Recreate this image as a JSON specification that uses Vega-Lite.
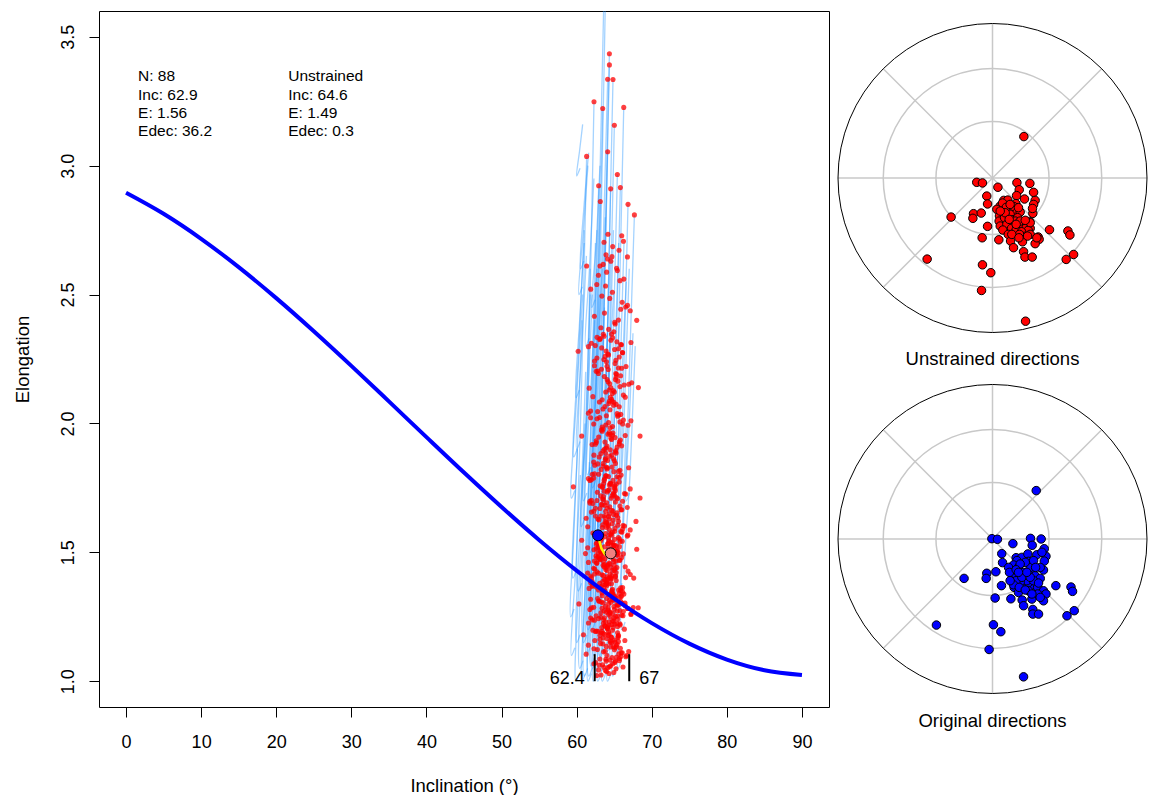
{
"$schema":"https://vega.github.io/schema/vega-lite/v6.json",
"padding":{"left":12,"top":10,"right":0,"bottom":0},
"config":{"font":"Liberation Sans","view":{"stroke":"#000000","strokeWidth":1},
"axis":{"labelFont":"Liberation Sans","titleFont":"Liberation Sans","labelColor":"#000000","titleColor":"#000000","tickColor":"#000000","grid":false,"domain":false,"labelFontSize":18,"titleFontSize":18.5,"titleFontWeight":"normal","tickSize":10}},
"resolve":{"scale":{"x":"independent","y":"independent","size":"independent"}},
"spacing":6,
"datasets":{
"tk03":[{"x":0,"y":2.895},{"x":5,"y":2.8133},{"x":10,"y":2.7163},{"x":15,"y":2.6064},{"x":20,"y":2.4861},{"x":25,"y":2.3576},{"x":30,"y":2.2233},{"x":35,"y":2.0856},{"x":40,"y":1.9468},{"x":45,"y":1.8094},{"x":50,"y":1.6758},{"x":55,"y":1.5481},{"x":60,"y":1.429},{"x":65,"y":1.3206},{"x":70,"y":1.2254},{"x":75,"y":1.1458},{"x":80,"y":1.0841},{"x":85,"y":1.0427},{"x":90,"y":1.0242}],
"lines":[
{"r":1,"k":0,"x":62.05,"y":1.05},{"r":1,"k":1,"x":61.6,"y":1.02},{"r":1,"k":2,"x":62.6,"y":2.3},{"r":1,"k":3,"x":63.7,"y":3.75},
{"r":2,"k":0,"x":62.55,"y":1.08},{"r":2,"k":1,"x":62.1,"y":1.05},{"r":2,"k":2,"x":63.0,"y":2.4},{"r":2,"k":3,"x":63.9,"y":3.75},
{"r":3,"k":0,"x":63.05,"y":1.07},{"r":3,"k":1,"x":62.6,"y":1.04},{"r":3,"k":2,"x":63.4,"y":2.2},{"r":3,"k":3,"x":64.36,"y":3.434},
{"r":4,"k":0,"x":63.35,"y":1.11},{"r":4,"k":1,"x":62.9,"y":1.08},{"r":4,"k":2,"x":63.5,"y":2.2},{"r":4,"k":3,"x":64.36,"y":3.391},
{"r":5,"k":0,"x":62.75,"y":1.13},{"r":5,"k":1,"x":62.3,"y":1.1},{"r":5,"k":2,"x":63.1,"y":2.2},{"r":5,"k":3,"x":64.13,"y":3.335},
{"r":6,"k":0,"x":63.75,"y":1.07},{"r":6,"k":1,"x":63.3,"y":1.04},{"r":6,"k":2,"x":64.0,"y":2.2},{"r":6,"k":3,"x":64.84,"y":3.334},
{"r":7,"k":0,"x":61.35,"y":1.18},{"r":7,"k":1,"x":60.9,"y":1.15},{"r":7,"k":2,"x":61.6,"y":2.2},{"r":7,"k":3,"x":62.31,"y":3.248},
{"r":8,"k":0,"x":62.35,"y":1.09},{"r":8,"k":1,"x":61.9,"y":1.06},{"r":8,"k":2,"x":62.6,"y":2.1},{"r":8,"k":3,"x":63.47,"y":3.222},
{"r":9,"k":0,"x":65.05,"y":1.09},{"r":9,"k":1,"x":64.6,"y":1.06},{"r":9,"k":2,"x":65.4,"y":2.1},{"r":9,"k":3,"x":66.27,"y":3.226},
{"r":10,"k":0,"x":63.95,"y":1.15},{"r":10,"k":1,"x":63.5,"y":1.12},{"r":10,"k":2,"x":64.2,"y":2.1},{"r":10,"k":3,"x":65.02,"y":3.157},
{"r":11,"k":0,"x":60.65,"y":1.38},{"r":11,"k":1,"x":60.2,"y":1.35},{"r":11,"k":2,"x":60.7,"y":2.2},{"r":11,"k":3,"x":61.33,"y":3.036},
{"r":12,"k":0,"x":63.15,"y":1.18},{"r":12,"k":1,"x":62.7,"y":1.15},{"r":12,"k":2,"x":63.4,"y":2.1},{"r":12,"k":3,"x":64.13,"y":3.054},
{"r":13,"k":0,"x":64.25,"y":1.11},{"r":13,"k":1,"x":63.8,"y":1.08},{"r":13,"k":2,"x":64.6,"y":2.0},{"r":13,"k":3,"x":65.42,"y":2.966},
{"r":14,"k":0,"x":61.95,"y":1.23},{"r":14,"k":1,"x":61.5,"y":1.2},{"r":14,"k":2,"x":62.2,"y":2.0},{"r":14,"k":3,"x":62.93,"y":2.922},
{"r":15,"k":0,"x":63.45,"y":1.13},{"r":15,"k":1,"x":63.0,"y":1.1},{"r":15,"k":2,"x":63.8,"y":2.0},{"r":15,"k":3,"x":64.53,"y":2.91},
{"r":16,"k":0,"x":64.65,"y":1.15},{"r":16,"k":1,"x":64.2,"y":1.12},{"r":16,"k":2,"x":65.0,"y":2.0},{"r":16,"k":3,"x":65.82,"y":2.915},
{"r":17,"k":0,"x":62.25,"y":1.28},{"r":17,"k":1,"x":61.8,"y":1.25},{"r":17,"k":2,"x":62.4,"y":2.0},{"r":17,"k":3,"x":63.15,"y":2.861},
{"r":18,"k":0,"x":65.65,"y":1.13},{"r":18,"k":1,"x":65.2,"y":1.1},{"r":18,"k":2,"x":66.0,"y":1.9},{"r":18,"k":3,"x":66.84,"y":2.85},
{"r":19,"k":0,"x":66.45,"y":1.23},{"r":19,"k":1,"x":66.0,"y":1.2},{"r":19,"k":2,"x":66.8,"y":2.0},{"r":19,"k":3,"x":67.69,"y":2.809},
{"r":20,"k":0,"x":60.45,"y":2.99},{"r":20,"k":1,"x":60.0,"y":2.96},{"r":20,"k":2,"x":60.4,"y":3.06},{"r":20,"k":3,"x":60.8,"y":3.16},
{"r":21,"k":0,"x":60.75,"y":2.53},{"r":21,"k":1,"x":60.3,"y":2.5},{"r":21,"k":2,"x":60.9,"y":2.75},{"r":21,"k":3,"x":61.5,"y":3.0},
{"r":22,"k":0,"x":60.05,"y":1.9},{"r":22,"k":1,"x":59.6,"y":1.87},{"r":22,"k":2,"x":60.3,"y":2.3},{"r":22,"k":3,"x":61.0,"y":2.75},
{"r":23,"k":0,"x":59.75,"y":1.74},{"r":23,"k":1,"x":59.3,"y":1.71},{"r":23,"k":2,"x":60.0,"y":2.1},{"r":23,"k":3,"x":60.8,"y":2.5},
{"r":24,"k":0,"x":59.95,"y":1.43},{"r":24,"k":1,"x":59.5,"y":1.4},{"r":24,"k":2,"x":60.1,"y":1.9},{"r":24,"k":3,"x":60.7,"y":2.4},
{"r":25,"k":0,"x":60.45,"y":1.18},{"r":25,"k":1,"x":60.0,"y":1.15},{"r":25,"k":2,"x":60.6,"y":1.7},{"r":25,"k":3,"x":61.2,"y":2.2},
{"r":26,"k":0,"x":60.85,"y":1.08},{"r":26,"k":1,"x":60.4,"y":1.05},{"r":26,"k":2,"x":61.1,"y":1.8},{"r":26,"k":3,"x":61.8,"y":2.6},
{"r":27,"k":0,"x":61.45,"y":1.05},{"r":27,"k":1,"x":61.0,"y":1.02},{"r":27,"k":2,"x":61.7,"y":1.8},{"r":27,"k":3,"x":62.5,"y":2.7},
{"r":28,"k":0,"x":61.75,"y":1.13},{"r":28,"k":1,"x":61.3,"y":1.1},{"r":28,"k":2,"x":62.0,"y":1.9},{"r":28,"k":3,"x":62.7,"y":2.75},
{"r":29,"k":0,"x":62.45,"y":1.23},{"r":29,"k":1,"x":62.0,"y":1.2},{"r":29,"k":2,"x":62.7,"y":1.95},{"r":29,"k":3,"x":63.4,"y":2.7},
{"r":30,"k":0,"x":62.85,"y":1.33},{"r":30,"k":1,"x":62.4,"y":1.3},{"r":30,"k":2,"x":63.0,"y":2.0},{"r":30,"k":3,"x":63.8,"y":2.8},
{"r":31,"k":0,"x":63.45,"y":1.28},{"r":31,"k":1,"x":63.0,"y":1.25},{"r":31,"k":2,"x":63.7,"y":2.0},{"r":31,"k":3,"x":64.5,"y":2.65},
{"r":32,"k":0,"x":63.85,"y":1.23},{"r":32,"k":1,"x":63.4,"y":1.2},{"r":32,"k":2,"x":64.1,"y":1.95},{"r":32,"k":3,"x":64.9,"y":2.75},
{"r":33,"k":0,"x":64.45,"y":1.28},{"r":33,"k":1,"x":64.0,"y":1.25},{"r":33,"k":2,"x":64.8,"y":2.0},{"r":33,"k":3,"x":65.6,"y":2.7},
{"r":34,"k":0,"x":65.35,"y":1.33},{"r":34,"k":1,"x":64.9,"y":1.3},{"r":34,"k":2,"x":65.6,"y":2.0},{"r":34,"k":3,"x":66.3,"y":2.7},
{"r":35,"k":0,"x":66.05,"y":1.38},{"r":35,"k":1,"x":65.6,"y":1.35},{"r":35,"k":2,"x":66.3,"y":2.0},{"r":35,"k":3,"x":67.0,"y":2.6},
{"r":36,"k":0,"x":61.65,"y":1.43},{"r":36,"k":1,"x":61.2,"y":1.4},{"r":36,"k":2,"x":61.8,"y":1.9},{"r":36,"k":3,"x":62.4,"y":2.4},
{"r":37,"k":0,"x":62.25,"y":1.53},{"r":37,"k":1,"x":61.8,"y":1.5},{"r":37,"k":2,"x":62.4,"y":2.0},{"r":37,"k":3,"x":63.0,"y":2.5},
{"r":38,"k":0,"x":62.95,"y":1.48},{"r":38,"k":1,"x":62.5,"y":1.45},{"r":38,"k":2,"x":63.1,"y":2.0},{"r":38,"k":3,"x":63.7,"y":2.45},
{"r":39,"k":0,"x":63.65,"y":1.53},{"r":39,"k":1,"x":63.2,"y":1.5},{"r":39,"k":2,"x":63.9,"y":2.0},{"r":39,"k":3,"x":64.6,"y":2.4},
{"r":40,"k":0,"x":64.75,"y":1.53},{"r":40,"k":1,"x":64.3,"y":1.5},{"r":40,"k":2,"x":65.0,"y":2.0},{"r":40,"k":3,"x":65.7,"y":2.4},
{"r":41,"k":0,"x":61.05,"y":1.63},{"r":41,"k":1,"x":60.6,"y":1.6},{"r":41,"k":2,"x":61.2,"y":2.0},{"r":41,"k":3,"x":61.8,"y":2.5},
{"r":42,"k":0,"x":60.35,"y":1.03},{"r":42,"k":1,"x":59.9,"y":1.0},{"r":42,"k":2,"x":60.5,"y":1.5},{"r":42,"k":3,"x":61.1,"y":2.0},
{"r":43,"k":0,"x":61.35,"y":1.73},{"r":43,"k":1,"x":60.9,"y":1.7},{"r":43,"k":2,"x":61.5,"y":2.1},{"r":43,"k":3,"x":62.1,"y":2.5},
{"r":44,"k":0,"x":61.85,"y":1.83},{"r":44,"k":1,"x":61.4,"y":1.8},{"r":44,"k":2,"x":62.0,"y":2.2},{"r":44,"k":3,"x":62.7,"y":2.6},
{"r":45,"k":0,"x":62.55,"y":1.78},{"r":45,"k":1,"x":62.1,"y":1.75},{"r":45,"k":2,"x":62.7,"y":2.2},{"r":45,"k":3,"x":63.4,"y":2.6},
{"r":46,"k":0,"x":64.05,"y":1.73},{"r":46,"k":1,"x":63.6,"y":1.7},{"r":46,"k":2,"x":64.2,"y":2.1},{"r":46,"k":3,"x":64.9,"y":2.5},
{"r":47,"k":0,"x":65.65,"y":1.63},{"r":47,"k":1,"x":65.2,"y":1.6},{"r":47,"k":2,"x":65.9,"y":2.1},{"r":47,"k":3,"x":66.6,"y":2.55},
{"r":48,"k":0,"x":66.85,"y":1.43},{"r":48,"k":1,"x":66.4,"y":1.4},{"r":48,"k":2,"x":67.1,"y":1.8},{"r":48,"k":3,"x":67.8,"y":2.3},
{"r":49,"k":0,"x":62.65,"y":1.03},{"r":49,"k":1,"x":62.2,"y":1.0},{"r":49,"k":2,"x":62.7,"y":1.5},{"r":49,"k":3,"x":63.2,"y":2.0},
{"r":50,"k":0,"x":63.25,"y":1.03},{"r":50,"k":1,"x":62.8,"y":1.0},{"r":50,"k":2,"x":63.3,"y":1.4},{"r":50,"k":3,"x":63.9,"y":1.9},
{"r":51,"k":0,"x":63.85,"y":1.03},{"r":51,"k":1,"x":63.4,"y":1.0},{"r":51,"k":2,"x":63.9,"y":1.45},{"r":51,"k":3,"x":64.5,"y":1.95},
{"r":52,"k":0,"x":64.55,"y":1.03},{"r":52,"k":1,"x":64.1,"y":1.0},{"r":52,"k":2,"x":64.6,"y":1.4},{"r":52,"k":3,"x":65.2,"y":1.9},
{"r":53,"k":0,"x":65.25,"y":1.05},{"r":53,"k":1,"x":64.8,"y":1.02},{"r":53,"k":2,"x":65.3,"y":1.5},{"r":53,"k":3,"x":65.9,"y":2.0},
{"r":54,"k":0,"x":65.95,"y":1.08},{"r":54,"k":1,"x":65.5,"y":1.05},{"r":54,"k":2,"x":66.0,"y":1.5},{"r":54,"k":3,"x":66.6,"y":2.0},
{"r":55,"k":0,"x":61.95,"y":1.03},{"r":55,"k":1,"x":61.5,"y":1.0},{"r":55,"k":2,"x":61.9,"y":1.4},{"r":55,"k":3,"x":62.4,"y":1.8},
{"r":56,"k":0,"x":61.15,"y":1.03},{"r":56,"k":1,"x":60.7,"y":1.0},{"r":56,"k":2,"x":61.2,"y":1.4},{"r":56,"k":3,"x":61.7,"y":1.85},
{"r":57,"k":0,"x":60.35,"y":2.13},{"r":57,"k":1,"x":59.9,"y":2.1},{"r":57,"k":2,"x":60.4,"y":2.4},{"r":57,"k":3,"x":61.0,"y":2.7},
{"r":58,"k":0,"x":60.95,"y":2.63},{"r":58,"k":1,"x":60.5,"y":2.6},{"r":58,"k":2,"x":61.0,"y":2.85},{"r":58,"k":3,"x":61.6,"y":3.05},
{"r":59,"k":0,"x":61.65,"y":2.33},{"r":59,"k":1,"x":61.2,"y":2.3},{"r":59,"k":2,"x":61.7,"y":2.6},{"r":59,"k":3,"x":62.3,"y":2.95},
{"r":60,"k":0,"x":62.45,"y":2.48},{"r":60,"k":1,"x":62.0,"y":2.45},{"r":60,"k":2,"x":62.6,"y":2.7},{"r":60,"k":3,"x":63.1,"y":3.0},
{"r":61,"k":0,"x":67.05,"y":1.73},{"r":61,"k":1,"x":66.6,"y":1.7},{"r":61,"k":2,"x":67.0,"y":2.0},{"r":61,"k":3,"x":67.5,"y":2.35},
{"r":62,"k":0,"x":59.65,"y":1.28},{"r":62,"k":1,"x":59.2,"y":1.25},{"r":62,"k":2,"x":59.6,"y":1.55},{"r":62,"k":3,"x":60.1,"y":1.9},
{"r":63,"k":0,"x":59.75,"y":1.13},{"r":63,"k":1,"x":59.3,"y":1.1},{"r":63,"k":2,"x":59.9,"y":1.45},{"r":63,"k":3,"x":60.5,"y":1.8},
{"r":64,"k":0,"x":60.45,"y":1.93},{"r":64,"k":1,"x":60.0,"y":1.9},{"r":64,"k":2,"x":60.6,"y":2.25},{"r":64,"k":3,"x":61.3,"y":2.65},
{"r":65,"k":0,"x":63.35,"y":1.63},{"r":65,"k":1,"x":62.9,"y":1.6},{"r":65,"k":2,"x":63.5,"y":2.0},{"r":65,"k":3,"x":64.1,"y":2.35}
],
"red":[
{"x":64.36,"y":3.434},{"x":64.36,"y":3.391},{"x":64.13,"y":3.335},{"x":64.84,"y":3.334},{"x":62.31,"y":3.248},{"x":63.47,"y":3.222},{"x":66.27,"y":3.226},{"x":65.02,"y":3.157},{"x":61.33,"y":3.036},{"x":64.13,"y":3.054},{"x":65.42,"y":2.966},{"x":62.93,"y":2.922},{"x":64.53,"y":2.91},{"x":65.82,"y":2.915},{"x":63.15,"y":2.861},{"x":66.84,"y":2.85},{"x":67.69,"y":2.809},{"x":64.17,"y":2.734},{"x":66.0,"y":2.728},{"x":63.64,"y":2.703},{"x":66.23,"y":2.707},{"x":64.8,"y":2.686},{"x":65.64,"y":2.672},{"x":63.91,"y":2.654},{"x":66.76,"y":2.646},
{"x":64.76,"y":2.509},{"x":63.23,"y":2.371},{"x":65.42,"y":2.593},{"x":66.52,"y":2.452},{"x":64.12,"y":2.638},{"x":62.36,"y":2.416},{"x":65.76,"y":2.554},{"x":64.40,"y":2.485},{"x":65.13,"y":2.386},{"x":63.53,"y":2.617},{"x":67.14,"y":2.437},{"x":63.85,"y":2.533},{"x":64.95,"y":2.356},{"x":62.90,"y":2.575},{"x":66.06,"y":2.470},{"x":64.55,"y":2.629},{"x":65.56,"y":2.401},{"x":61.87,"y":2.521},{"x":65.32,"y":2.602},{"x":63.70,"y":2.428},{"x":66.29,"y":2.560},{"x":64.26,"y":2.365},{"x":63.36,"y":2.494},{"x":64.70,"y":2.647},{"x":66.77,"y":2.458},{"x":62.68,"y":2.539},{"x":65.07,"y":2.392},{"x":63.99,"y":2.587},{"x":65.87,"y":2.443},{"x":63.10,"y":2.611},
{"x":64.20,"y":2.209},{"x":64.93,"y":2.071},{"x":63.33,"y":2.293},{"x":66.94,"y":2.152},{"x":63.65,"y":2.338},{"x":64.75,"y":2.116},{"x":62.70,"y":2.254},{"x":65.86,"y":2.185},{"x":64.35,"y":2.086},{"x":65.36,"y":2.317},{"x":61.67,"y":2.137},{"x":65.12,"y":2.233},{"x":63.50,"y":2.056},{"x":66.09,"y":2.275},{"x":64.06,"y":2.170},{"x":63.16,"y":2.329},{"x":64.50,"y":2.101},{"x":66.57,"y":2.221},{"x":62.48,"y":2.302},{"x":64.87,"y":2.128},{"x":63.79,"y":2.260},{"x":65.67,"y":2.065},{"x":62.90,"y":2.194},{"x":64.65,"y":2.347},{"x":67.33,"y":2.158},{"x":63.97,"y":2.239},{"x":63.40,"y":2.092},{"x":65.05,"y":2.287},{"x":65.77,"y":2.143},{"x":61.96,"y":2.311},{"x":65.26,"y":2.179},{"x":64.28,"y":2.077},{"x":63.62,"y":2.248},{"x":66.22,"y":2.110},{"x":64.80,"y":2.332},{"x":62.81,"y":2.203},{"x":65.49,"y":2.164},{"x":64.14,"y":2.269},{"x":64.44,"y":2.053},{"x":62.37,"y":2.224},{"x":65.97,"y":2.305},{"x":63.87,"y":2.122},{"x":65.31,"y":2.191},{"x":64.56,"y":2.323},{"x":63.03,"y":2.083},{"x":65.22,"y":2.245},{"x":66.32,"y":2.149},{"x":63.92,"y":2.281},{"x":62.16,"y":2.104},{"x":65.56,"y":2.215},
{"x":62.60,"y":1.933},{"x":65.76,"y":1.818},{"x":64.25,"y":2.003},{"x":65.26,"y":1.885},{"x":61.57,"y":2.040},{"x":65.02,"y":1.855},{"x":63.40,"y":1.970},{"x":65.99,"y":1.913},{"x":63.96,"y":1.830},{"x":63.06,"y":2.023},{"x":64.40,"y":1.873},{"x":66.47,"y":1.953},{"x":62.38,"y":1.805},{"x":64.77,"y":1.988},{"x":63.69,"y":1.900},{"x":65.57,"y":2.033},{"x":62.80,"y":1.843},{"x":64.55,"y":1.943},{"x":67.23,"y":2.010},{"x":63.87,"y":1.865},{"x":63.30,"y":1.975},{"x":64.95,"y":1.813},{"x":65.67,"y":1.920},{"x":61.86,"y":2.048},{"x":65.16,"y":1.890},{"x":64.18,"y":1.958},{"x":63.52,"y":1.835},{"x":66.12,"y":1.998},{"x":64.70,"y":1.878},{"x":62.71,"y":2.018},{"x":65.39,"y":1.908},{"x":64.04,"y":1.823},{"x":64.34,"y":1.965},{"x":62.27,"y":1.850},{"x":65.87,"y":2.035},{"x":63.77,"y":1.928},{"x":65.21,"y":1.895},{"x":64.46,"y":1.983},{"x":62.93,"y":1.803},{"x":65.12,"y":1.945},{"x":66.22,"y":2.013},{"x":63.82,"y":1.860},{"x":62.06,"y":1.918},{"x":65.46,"y":2.028},{"x":64.10,"y":1.828},{"x":64.83,"y":1.963},{"x":63.23,"y":1.883},{"x":66.84,"y":1.993},{"x":63.55,"y":1.845},{"x":64.65,"y":1.938},
{"x":63.86,"y":1.659},{"x":62.96,"y":1.521},{"x":64.30,"y":1.743},{"x":66.37,"y":1.602},{"x":62.28,"y":1.788},{"x":64.67,"y":1.566},{"x":63.59,"y":1.704},{"x":65.47,"y":1.635},{"x":62.70,"y":1.536},{"x":64.45,"y":1.767},{"x":67.13,"y":1.587},{"x":63.77,"y":1.683},{"x":63.20,"y":1.506},{"x":64.85,"y":1.725},{"x":65.57,"y":1.620},{"x":61.76,"y":1.779},{"x":65.06,"y":1.551},{"x":64.08,"y":1.671},{"x":63.42,"y":1.752},{"x":66.02,"y":1.578},{"x":64.60,"y":1.710},{"x":62.61,"y":1.515},{"x":65.29,"y":1.644},{"x":63.94,"y":1.797},{"x":64.24,"y":1.608},{"x":62.17,"y":1.689},{"x":65.77,"y":1.542},{"x":63.67,"y":1.737},{"x":65.11,"y":1.593},{"x":64.36,"y":1.761},{"x":62.83,"y":1.629},{"x":65.02,"y":1.527},{"x":66.12,"y":1.698},{"x":63.72,"y":1.560},{"x":61.96,"y":1.782},{"x":65.36,"y":1.653},{"x":64.00,"y":1.614},{"x":64.73,"y":1.719},{"x":63.13,"y":1.503},{"x":66.74,"y":1.674},{"x":63.45,"y":1.755},{"x":64.55,"y":1.572},{"x":62.50,"y":1.641},{"x":65.66,"y":1.773},{"x":64.15,"y":1.533},{"x":65.16,"y":1.695},{"x":61.47,"y":1.599},{"x":64.92,"y":1.731},{"x":63.30,"y":1.554},{"x":65.89,"y":1.665},
{"x":63.20,"y":1.641},{"x":64.85,"y":1.779},{"x":65.57,"y":1.557},{"x":61.76,"y":1.698},{"x":65.06,"y":1.512},{"x":64.08,"y":1.734},{"x":63.42,"y":1.596},{"x":66.02,"y":1.665},{"x":64.60,"y":1.764},{"x":62.61,"y":1.533},{"x":65.29,"y":1.713},{"x":63.94,"y":1.617},{"x":64.24,"y":1.794},{"x":62.17,"y":1.575},{"x":65.77,"y":1.680},{"x":63.67,"y":1.521},{"x":65.11,"y":1.749},{"x":64.36,"y":1.629},{"x":62.83,"y":1.548},{"x":65.02,"y":1.722},{"x":66.12,"y":1.590},{"x":63.72,"y":1.785},{"x":61.96,"y":1.656},{"x":65.36,"y":1.503},{"x":64.00,"y":1.692},{"x":64.73,"y":1.611},{"x":63.13,"y":1.758},{"x":66.74,"y":1.563},{"x":63.45,"y":1.707},{"x":64.55,"y":1.539},{"x":62.50,"y":1.671},{"x":65.66,"y":1.790},{"x":64.15,"y":1.602},{"x":65.16,"y":1.740},{"x":61.47,"y":1.518},{"x":64.92,"y":1.647},{"x":63.30,"y":1.686},{"x":65.89,"y":1.581},{"x":63.86,"y":1.797},{"x":62.96,"y":1.626},{"x":64.30,"y":1.545},{"x":66.37,"y":1.728},{"x":62.28,"y":1.659},{"x":64.67,"y":1.527},{"x":63.59,"y":1.767},{"x":65.47,"y":1.605},{"x":62.70,"y":1.701},{"x":64.45,"y":1.569},{"x":67.13,"y":1.746},{"x":63.77,"y":1.635},
{"x":62.06,"y":1.368},{"x":65.46,"y":1.240},{"x":64.10,"y":1.447},{"x":64.83,"y":1.315},{"x":63.23,"y":1.489},{"x":66.84,"y":1.282},{"x":63.55,"y":1.410},{"x":64.65,"y":1.346},{"x":62.60,"y":1.254},{"x":65.76,"y":1.469},{"x":64.25,"y":1.301},{"x":65.26,"y":1.391},{"x":61.57,"y":1.226},{"x":65.02,"y":1.430},{"x":63.40,"y":1.332},{"x":65.99,"y":1.480},{"x":63.96,"y":1.268},{"x":63.06,"y":1.380},{"x":64.40,"y":1.455},{"x":66.47,"y":1.293},{"x":62.38,"y":1.416},{"x":64.77,"y":1.234},{"x":63.69,"y":1.354},{"x":65.57,"y":1.497},{"x":62.80,"y":1.321},{"x":64.55,"y":1.396},{"x":67.23,"y":1.259},{"x":63.87,"y":1.441},{"x":63.30,"y":1.307},{"x":64.95,"y":1.464},{"x":65.67,"y":1.340},{"x":61.86,"y":1.245},{"x":65.16,"y":1.405},{"x":64.18,"y":1.276},{"x":63.52,"y":1.483},{"x":66.12,"y":1.363},{"x":64.70,"y":1.326},{"x":62.71,"y":1.424},{"x":65.39,"y":1.223},{"x":64.04,"y":1.382},{"x":64.34,"y":1.458},{"x":62.27,"y":1.287},{"x":65.87,"y":1.352},{"x":63.77,"y":1.475},{"x":65.21,"y":1.251},{"x":64.46,"y":1.402},{"x":62.93,"y":1.312},{"x":65.12,"y":1.436},{"x":66.22,"y":1.270},{"x":63.82,"y":1.374},
{"x":64.70,"y":1.352},{"x":62.71,"y":1.480},{"x":65.39,"y":1.273},{"x":64.04,"y":1.405},{"x":64.34,"y":1.231},{"x":62.27,"y":1.438},{"x":65.87,"y":1.310},{"x":63.77,"y":1.374},{"x":65.21,"y":1.466},{"x":64.46,"y":1.251},{"x":62.93,"y":1.419},{"x":65.12,"y":1.329},{"x":66.22,"y":1.494},{"x":63.82,"y":1.290},{"x":62.06,"y":1.388},{"x":65.46,"y":1.212},{"x":64.10,"y":1.452},{"x":64.83,"y":1.340},{"x":63.23,"y":1.265},{"x":66.84,"y":1.427},{"x":63.55,"y":1.304},{"x":64.65,"y":1.486},{"x":62.60,"y":1.366},{"x":65.76,"y":1.223},{"x":64.25,"y":1.399},{"x":65.26,"y":1.324},{"x":61.57,"y":1.461},{"x":65.02,"y":1.279},{"x":63.40,"y":1.413},{"x":65.99,"y":1.256},{"x":63.96,"y":1.380},{"x":63.06,"y":1.475},{"x":64.40,"y":1.315},{"x":66.47,"y":1.444},{"x":62.38,"y":1.237},{"x":64.77,"y":1.357},{"x":63.69,"y":1.394},{"x":65.57,"y":1.296},{"x":62.80,"y":1.497},{"x":64.55,"y":1.338},{"x":67.23,"y":1.262},{"x":63.87,"y":1.433},{"x":63.30,"y":1.368},{"x":64.95,"y":1.245},{"x":65.67,"y":1.469},{"x":61.86,"y":1.318},{"x":65.16,"y":1.408},{"x":64.18,"y":1.284},{"x":63.52,"y":1.450},{"x":66.12,"y":1.346},
{"x":62.30,"y":1.126},{"x":64.95,"y":1.034},{"x":63.71,"y":1.182},{"x":65.70,"y":1.088},{"x":64.14,"y":1.212},{"x":63.45,"y":1.064},{"x":64.48,"y":1.156},{"x":66.07,"y":1.110},{"x":62.92,"y":1.044},{"x":64.76,"y":1.198},{"x":63.93,"y":1.078},{"x":65.38,"y":1.142},{"x":63.25,"y":1.024},{"x":64.59,"y":1.170},{"x":66.65,"y":1.100},{"x":64.07,"y":1.206},{"x":63.63,"y":1.054},{"x":64.90,"y":1.134},{"x":65.45,"y":1.188},{"x":62.52,"y":1.072},{"x":65.06,"y":1.160},{"x":64.31,"y":1.030},{"x":63.80,"y":1.116},{"x":65.80,"y":1.218},{"x":64.71,"y":1.092},{"x":63.18,"y":1.146},{"x":65.24,"y":1.048},{"x":64.20,"y":1.178},{"x":64.43,"y":1.082},{"x":62.84,"y":1.194},{"x":65.61,"y":1.106},{"x":63.99,"y":1.038},{"x":65.10,"y":1.152},{"x":64.52,"y":1.060},{"x":63.35,"y":1.208},{"x":65.03,"y":1.122},{"x":65.88,"y":1.096},{"x":64.03,"y":1.166},{"x":62.68,"y":1.022},{"x":65.29,"y":1.136},{"x":64.25,"y":1.190},{"x":64.81,"y":1.068},{"x":63.58,"y":1.114},{"x":66.35,"y":1.202},{"x":63.82,"y":1.042},{"x":64.67,"y":1.150},{"x":63.09,"y":1.086},{"x":65.52,"y":1.174},{"x":64.36,"y":1.056},{"x":65.14,"y":1.130},
{"x":59.56,"y":1.754},{"x":60.67,"y":1.547},{"x":60.67,"y":1.951},{"x":61.33,"y":2.611},{"x":68.22,"y":2.139},{"x":68.44,"y":1.951},{"x":68.44,"y":1.711},{"x":68.0,"y":1.512},{"x":68.2,"y":1.285},{"x":60.3,"y":1.30},{"x":60.9,"y":1.18},{"x":67.6,"y":1.40},{"x":67.9,"y":1.62},{"x":60.2,"y":2.28},{"x":68.0,"y":2.40},
{"x":62.50,"y":1.193},{"x":64.25,"y":1.260},{"x":66.93,"y":1.115},{"x":63.57,"y":1.225},{"x":63.00,"y":1.063},{"x":64.65,"y":1.170},{"x":65.37,"y":1.298},{"x":61.56,"y":1.140},{"x":64.86,"y":1.208},{"x":63.88,"y":1.085},{"x":63.22,"y":1.248},{"x":65.82,"y":1.128},{"x":64.40,"y":1.268},{"x":62.41,"y":1.158},{"x":65.09,"y":1.073},{"x":63.74,"y":1.215},{"x":64.04,"y":1.100},{"x":61.97,"y":1.285},{"x":65.57,"y":1.178},{"x":63.47,"y":1.145},{"x":64.91,"y":1.233},{"x":64.16,"y":1.053},{"x":62.63,"y":1.195},{"x":64.82,"y":1.263},{"x":65.92,"y":1.110},{"x":63.52,"y":1.168},{"x":61.76,"y":1.278},{"x":65.16,"y":1.078},{"x":63.80,"y":1.213},{"x":64.53,"y":1.133},{"x":62.93,"y":1.243},{"x":66.54,"y":1.095},{"x":63.25,"y":1.188},{"x":64.35,"y":1.183},{"x":62.30,"y":1.068},{"x":65.46,"y":1.253},{"x":63.95,"y":1.135},{"x":64.96,"y":1.290},{"x":61.27,"y":1.105},{"x":64.72,"y":1.220},{"x":63.10,"y":1.163},{"x":65.69,"y":1.080},{"x":63.66,"y":1.273},{"x":62.76,"y":1.123},{"x":64.10,"y":1.203},{"x":66.17,"y":1.055},{"x":62.08,"y":1.238},{"x":64.47,"y":1.150},{"x":63.39,"y":1.283},{"x":65.27,"y":1.093},
{"x":65.82,"y":1.327},{"x":63.42,"y":1.498},{"x":61.66,"y":1.360},{"x":65.06,"y":1.582},{"x":63.70,"y":1.453},{"x":64.43,"y":1.414},{"x":62.83,"y":1.519},{"x":66.44,"y":1.303},{"x":63.15,"y":1.474},{"x":64.25,"y":1.555},{"x":62.20,"y":1.372},{"x":65.36,"y":1.441},{"x":63.85,"y":1.573},{"x":64.86,"y":1.333},{"x":61.17,"y":1.495},{"x":64.62,"y":1.399},{"x":63.00,"y":1.531},{"x":65.59,"y":1.354},{"x":63.56,"y":1.465},{"x":62.66,"y":1.459},{"x":64.00,"y":1.321},{"x":66.07,"y":1.543},{"x":61.98,"y":1.402},{"x":64.37,"y":1.588},{"x":63.29,"y":1.366},{"x":65.17,"y":1.504},{"x":62.40,"y":1.435},{"x":64.15,"y":1.336},{"x":66.83,"y":1.567},{"x":63.47,"y":1.387},{"x":62.90,"y":1.483},{"x":64.55,"y":1.306},{"x":65.27,"y":1.525},{"x":61.46,"y":1.420},{"x":64.76,"y":1.579},{"x":63.78,"y":1.351},{"x":63.12,"y":1.471},{"x":65.72,"y":1.552},{"x":64.30,"y":1.378},{"x":62.31,"y":1.510},{"x":64.99,"y":1.315},{"x":63.64,"y":1.444},{"x":63.94,"y":1.597},{"x":61.87,"y":1.408},{"x":65.47,"y":1.489},{"x":63.37,"y":1.342},{"x":64.81,"y":1.537},{"x":64.06,"y":1.393},{"x":62.53,"y":1.561},{"x":64.72,"y":1.429},
{"x":64.04,"y":1.912},{"x":61.97,"y":1.702},{"x":65.57,"y":1.814},{"x":63.47,"y":1.607},{"x":64.91,"y":1.863},{"x":64.16,"y":1.740},{"x":62.63,"y":1.926},{"x":64.82,"y":1.660},{"x":65.92,"y":1.800},{"x":63.52,"y":1.894},{"x":61.76,"y":1.691},{"x":65.16,"y":1.845},{"x":63.80,"y":1.618},{"x":64.53,"y":1.768},{"x":62.93,"y":1.947},{"x":66.54,"y":1.726},{"x":63.25,"y":1.821},{"x":64.35,"y":1.649},{"x":62.30,"y":1.877},{"x":65.46,"y":1.709},{"x":63.95,"y":1.905},{"x":64.96,"y":1.751},{"x":61.27,"y":1.632},{"x":64.72,"y":1.831},{"x":63.10,"y":1.670},{"x":65.69,"y":1.929},{"x":63.66,"y":1.779},{"x":62.76,"y":1.733},{"x":64.10,"y":1.856},{"x":66.17,"y":1.604},{"x":62.08,"y":1.803},{"x":64.47,"y":1.898},{"x":63.39,"y":1.684},{"x":65.27,"y":1.765},{"x":62.50,"y":1.919},{"x":64.25,"y":1.639},{"x":66.93,"y":1.828},{"x":63.57,"y":1.716},{"x":63.00,"y":1.870},{"x":64.65,"y":1.663},{"x":65.37,"y":1.793},{"x":61.56,"y":1.786},{"x":64.86,"y":1.625},{"x":63.88,"y":1.884},{"x":63.22,"y":1.719},{"x":65.82,"y":1.936},{"x":64.40,"y":1.677},{"x":62.41,"y":1.838},{"x":65.09,"y":1.758},{"x":63.74,"y":1.642},
{"x":63.55,"y":2.346},{"x":64.65,"y":2.094},{"x":62.60,"y":2.202},{"x":65.76,"y":2.006},{"x":64.25,"y":2.266},{"x":65.26,"y":2.074},{"x":61.57,"y":2.298},{"x":65.02,"y":2.122},{"x":63.40,"y":1.986},{"x":65.99,"y":2.214},{"x":63.96,"y":2.030},{"x":63.06,"y":2.326},{"x":64.40,"y":2.154},{"x":66.47,"y":2.102},{"x":62.38,"y":2.242},{"x":64.77,"y":1.954},{"x":63.69,"y":2.182},{"x":65.57,"y":2.290},{"x":62.80,"y":2.046},{"x":64.55,"y":2.138},{"x":67.23,"y":2.314},{"x":63.87,"y":1.994},{"x":63.30,"y":2.210},{"x":64.95,"y":2.082},{"x":65.67,"y":2.258},{"x":61.86,"y":2.022},{"x":65.16,"y":2.170},{"x":64.18,"y":2.162},{"x":63.52,"y":1.978},{"x":66.12,"y":2.274},{"x":64.70,"y":2.086},{"x":62.71,"y":2.334},{"x":65.39,"y":2.038},{"x":64.04,"y":2.222},{"x":64.34,"y":2.130},{"x":62.27,"y":1.998},{"x":65.87,"y":2.306},{"x":63.77,"y":2.066},{"x":65.21,"y":2.194},{"x":64.46,"y":1.958},
{"x":63.70,"y":1.246},{"x":66.29,"y":1.338},{"x":64.26,"y":1.514},{"x":63.36,"y":1.194},{"x":64.70,"y":1.410},{"x":66.77,"y":1.282},{"x":62.68,"y":1.458},{"x":65.07,"y":1.222},{"x":63.99,"y":1.370},{"x":65.87,"y":1.362},{"x":63.10,"y":1.178},{"x":64.85,"y":1.474},{"x":67.53,"y":1.286},{"x":64.17,"y":1.534},{"x":63.60,"y":1.238},{"x":65.25,"y":1.422},{"x":65.97,"y":1.330},{"x":62.16,"y":1.198},{"x":65.46,"y":1.506},{"x":64.48,"y":1.266},{"x":63.82,"y":1.394},{"x":66.42,"y":1.158},{"x":65.00,"y":1.450},{"x":63.01,"y":1.310},{"x":65.69,"y":1.522},{"x":64.34,"y":1.218},{"x":64.64,"y":1.378},{"x":62.57,"y":1.486},{"x":66.17,"y":1.254},{"x":64.07,"y":1.430},{"x":65.51,"y":1.170},{"x":64.76,"y":1.342},{"x":63.23,"y":1.546},{"x":65.42,"y":1.294},{"x":66.52,"y":1.402},{"x":64.12,"y":1.206},{"x":62.36,"y":1.466},{"x":65.76,"y":1.274},{"x":64.40,"y":1.498},{"x":65.13,"y":1.322},{"x":63.53,"y":1.186},{"x":67.14,"y":1.414},{"x":63.85,"y":1.230},{"x":64.95,"y":1.526},{"x":62.90,"y":1.354},{"x":66.06,"y":1.302},{"x":64.55,"y":1.442},{"x":65.56,"y":1.154},{"x":61.87,"y":1.382},{"x":65.32,"y":1.490}
],
"path":[{"k":0,"x":62.85,"y":1.566},{"k":1,"x":63.0,"y":1.546},{"k":2,"x":63.3,"y":1.515},{"k":3,"x":63.7,"y":1.495},{"k":4,"x":64.1,"y":1.487},{"k":5,"x":64.53,"y":1.496}],
"means":[{"which":"strained","x":62.85,"y":1.566},{"which":"unstrained","x":64.53,"y":1.496}],
"ann":[{"x":1.6,"y":3.347,"t":"N: 88"},{"x":1.6,"y":3.276,"t":"Inc: 62.9"},{"x":1.6,"y":3.205,"t":"E: 1.56"},{"x":1.6,"y":3.134,"t":"Edec: 36.2"},{"x":21.6,"y":3.347,"t":"Unstrained"},{"x":21.6,"y":3.276,"t":"Inc: 64.6"},{"x":21.6,"y":3.205,"t":"E: 1.49"},{"x":21.6,"y":3.134,"t":"Edec: 0.3"}],
"iv":[{"x":62.4,"y":1.0,"y2":1.105,"t":"62.4","side":"lo"},{"x":67.0,"y":1.0,"y2":1.105,"t":"67","side":"hi"}],
"spokes":[{"u":-1,"v":0,"u2":1,"v2":0},{"u":0,"v":-1,"u2":0,"v2":1},{"u":-0.7071,"v":-0.7071,"u2":0.7071,"v2":0.7071},{"u":-0.7071,"v":0.7071,"u2":0.7071,"v2":-0.7071}],
"rings":[{"u":0,"v":0,"r":0.366},{"u":0,"v":0,"r":0.707}],
"outer":[{"u":0,"v":0,"r":1}],
"dir_u":[{"u":0.203,"v":0.268},{"u":-0.102,"v":-0.028},{"u":-0.065,"v":-0.032},{"u":0.035,"v":-0.06},{"u":0.158,"v":-0.03},{"u":0.242,"v":-0.035},{"u":0.173,"v":-0.076},{"u":0.266,"v":-0.093},{"u":-0.037,"v":-0.117},{"u":-0.032,"v":-0.168},{"u":0.073,"v":-0.145},{"u":0.099,"v":-0.143},{"u":0.156,"v":-0.114},{"u":0.207,"v":-0.136},{"u":0.276,"v":-0.145},{"u":0.266,"v":-0.171},{"u":0.151,"v":-0.166},{"u":0.05,"v":-0.181},{"u":0.065,"v":-0.162},{"u":0.028,"v":-0.203},{"u":0.089,"v":-0.19},{"u":0.136,"v":-0.184},{"u":0.153,"v":-0.229},{"u":0.179,"v":-0.22},{"u":0.261,"v":-0.229},{"u":0.259,"v":-0.197},{"u":-0.123,"v":-0.231},{"u":-0.127,"v":-0.261},{"u":-0.073,"v":-0.227},{"u":-0.268,"v":-0.253},{"u":-0.032,"v":-0.313},{"u":0.045,"v":-0.246},{"u":0.043,"v":-0.279},{"u":0.05,"v":-0.311},{"u":0.078,"v":-0.257},{"u":0.114,"v":-0.235},{"u":0.132,"v":-0.27},{"u":0.162,"v":-0.257},{"u":0.13,"v":-0.311},{"u":0.093,"v":-0.3},{"u":0.24,"v":-0.281},{"u":0.197,"v":-0.307},{"u":0.218,"v":-0.322},{"u":0.244,"v":-0.326},{"u":0.067,"v":-0.337},{"u":0.123,"v":-0.326},{"u":0.153,"v":-0.337},{"u":0.231,"v":-0.339},{"u":0.188,"v":-0.348},{"u":0.102,"v":-0.365},{"u":0.207,"v":-0.378},{"u":0.244,"v":-0.365},{"u":0.296,"v":-0.382},{"u":0.302,"v":-0.397},{"u":0.276,"v":-0.425},{"u":0.369,"v":-0.335},{"u":0.488,"v":-0.343},{"u":0.501,"v":-0.369},{"u":-0.067,"v":-0.387},{"u":0.041,"v":-0.4},{"u":0.117,"v":-0.408},{"u":0.194,"v":-0.413},{"u":0.136,"v":-0.451},{"u":0.201,"v":-0.477},{"u":0.21,"v":-0.512},{"u":0.257,"v":-0.512},{"u":-0.423,"v":-0.525},{"u":-0.065,"v":-0.562},{"u":-0.011,"v":-0.613},{"u":0.477,"v":-0.527},{"u":0.525,"v":-0.495},{"u":-0.071,"v":-0.728},{"u":0.214,"v":-0.927},{"u":0.175,"v":-0.365},{"u":0.125,"v":-0.365},{"u":0.082,"v":-0.225},{"u":0.147,"v":-0.279},{"u":0.179,"v":-0.279},{"u":0.227,"v":-0.376},{"u":0.114,"v":-0.171},{"u":0.168,"v":-0.192},{"u":0.108,"v":-0.268},{"u":0.244,"v":-0.289},{"u":0.05,"v":-0.214},{"u":0.212,"v":-0.274},{"u":0.287,"v":-0.387},{"u":0.171,"v":-0.387},{"u":0.153,"v":-0.3}],
"dir_o":[{"u":0.283,"v":0.313},{"u":-0.004,"v":0.002},{"u":0.032,"v":-0.002},{"u":0.132,"v":-0.03},{"u":0.246,"v":0.004},{"u":0.315,"v":0.0},{"u":0.257,"v":-0.041},{"u":0.335,"v":-0.063},{"u":0.06,"v":-0.095},{"u":0.065,"v":-0.153},{"u":0.287,"v":-0.102},{"u":0.346,"v":-0.112},{"u":0.153,"v":-0.121},{"u":0.19,"v":-0.119},{"u":0.229,"v":-0.097},{"u":0.233,"v":-0.145},{"u":0.335,"v":-0.143},{"u":0.158,"v":-0.14},{"u":0.136,"v":-0.168},{"u":0.33,"v":-0.201},{"u":-0.037,"v":-0.222},{"u":-0.041,"v":-0.255},{"u":0.022,"v":-0.212},{"u":-0.184,"v":-0.255},{"u":0.058,"v":-0.302},{"u":0.125,"v":-0.222},{"u":0.136,"v":-0.266},{"u":0.168,"v":-0.184},{"u":0.201,"v":-0.216},{"u":0.212,"v":-0.248},{"u":0.255,"v":-0.205},{"u":0.276,"v":-0.238},{"u":0.309,"v":-0.255},{"u":0.14,"v":-0.313},{"u":0.168,"v":-0.346},{"u":0.201,"v":-0.302},{"u":0.24,"v":-0.296},{"u":0.272,"v":-0.317},{"u":0.292,"v":-0.313},{"u":0.33,"v":-0.335},{"u":0.346,"v":-0.356},{"u":0.33,"v":-0.4},{"u":0.41,"v":-0.302},{"u":0.508,"v":-0.311},{"u":0.518,"v":-0.339},{"u":0.017,"v":-0.382},{"u":0.119,"v":-0.387},{"u":0.192,"v":-0.395},{"u":0.201,"v":-0.432},{"u":0.255,"v":-0.389},{"u":0.261,"v":-0.456},{"u":0.261,"v":-0.486},{"u":0.298,"v":-0.486},{"u":-0.363,"v":-0.557},{"u":0.006,"v":-0.555},{"u":0.054,"v":-0.6},{"u":0.482,"v":-0.497},{"u":0.529,"v":-0.464},{"u":-0.022,"v":-0.715},{"u":0.201,"v":-0.892},{"u":0.104,"v":-0.184},{"u":0.222,"v":-0.27},{"u":0.179,"v":-0.281},{"u":0.147,"v":-0.227},{"u":0.244,"v":-0.184},{"u":0.266,"v":-0.27},{"u":0.233,"v":-0.335},{"u":0.292,"v":-0.356},{"u":0.153,"v":-0.27},{"u":0.309,"v":-0.184},{"u":0.212,"v":-0.151},{"u":0.179,"v":-0.162},{"u":0.11,"v":-0.216},{"u":0.266,"v":-0.14},{"u":0.298,"v":-0.285},{"u":0.136,"v":-0.296},{"u":0.19,"v":-0.248},{"u":0.244,"v":-0.248},{"u":0.32,"v":-0.086},{"u":0.173,"v":-0.313},{"u":0.212,"v":-0.33},{"u":0.255,"v":-0.356},{"u":0.153,"v":-0.199},{"u":0.279,"v":-0.184},{"u":0.222,"v":-0.216},{"u":0.114,"v":-0.27},{"u":0.168,"v":-0.216},{"u":0.309,"v":-0.378}]
},
"hconcat":[
{
"width":730,"height":696,
"encoding":{
"x":{"field":"x","type":"quantitative","scale":{"domain":[-3.6,93.6],"nice":false,"zero":false},"axis":{"values":[0,10,20,30,40,50,60,70,80,90],"labelPadding":16,"titlePadding":25,"labelAngle":0,"title":"Inclination (°)"}},
"y":{"field":"y","type":"quantitative","scale":{"domain":[0.9,3.6],"nice":false,"zero":false},"axis":{"values":[1,1.5,2,2.5,3,3.5],"format":".1f","labelAngle":-90,"labelAlign":"center","labelBaseline":"bottom","labelPadding":12,"titlePadding":27,"title":"Elongation"}}
},
"layer":[
{"data":{"name":"lines"},"mark":{"type":"line","interpolate":"catmull-rom","stroke":"#1E90FF","strokeWidth":1.3,"opacity":0.4,"clip":true},"encoding":{"detail":{"field":"r","type":"nominal"},"order":{"field":"k","type":"quantitative"}}},
{"data":{"name":"red"},"mark":{"type":"circle","color":"#FF0000","size":26,"opacity":0.75}},
{"data":{"name":"tk03"},"mark":{"type":"line","color":"#0000FF","strokeWidth":4,"interpolate":"monotone"}},
{"data":{"name":"iv"},"mark":{"type":"rule","color":"#000000","strokeWidth":2},"encoding":{"y2":{"field":"y2"}}},
{"data":{"name":"iv"},"transform":[{"filter":"datum.side == 'lo'"}],"mark":{"type":"text","align":"right","baseline":"middle","dx":-10,"fontSize":18,"font":"Liberation Sans","color":"#000000"},"encoding":{"text":{"field":"t"},"y":{"datum":1.008}}},
{"data":{"name":"iv"},"transform":[{"filter":"datum.side == 'hi'"}],"mark":{"type":"text","align":"left","baseline":"middle","dx":10,"fontSize":18,"font":"Liberation Sans","color":"#000000"},"encoding":{"text":{"field":"t"},"y":{"datum":1.008}}},
{"data":{"name":"path"},"mark":{"type":"line","color":"#FFEE00","strokeWidth":2.5},"encoding":{"order":{"field":"k","type":"quantitative"}}},
{"data":{"name":"means"},"mark":{"type":"point","shape":"circle","filled":true,"size":120,"stroke":"#000000","strokeWidth":1,"opacity":1},"encoding":{"fill":{"field":"which","type":"nominal","scale":{"domain":["strained","unstrained"],"range":["#0000FF","#F08080"]},"legend":null}}},
{"data":{"name":"ann"},"mark":{"type":"text","align":"left","baseline":"middle","fontSize":15.5,"font":"Liberation Sans","color":"#000000"},"encoding":{"text":{"field":"t"}}}
]
},
{
"vconcat":[
{
"width":309,"height":334,
"view":{"stroke":null},
"title":{"text":"Unstrained directions","orient":"bottom","fontSize":18.5,"fontWeight":"normal","font":"Liberation Sans","color":"#000000","offset":5},
"encoding":{
"x":{"field":"u","type":"quantitative","scale":{"domain":[-1,1],"nice":false,"zero":false},"axis":null},
"y":{"field":"v","type":"quantitative","scale":{"domain":[-1.081,1.081],"nice":false,"zero":false},"axis":null}
},
"layer":[
{"data":{"name":"spokes"},"mark":{"type":"rule","stroke":"#C8C8C8","strokeWidth":1.5},"encoding":{"x2":{"field":"u2"},"y2":{"field":"v2"}}},
{"data":{"name":"rings"},"mark":{"type":"point","shape":"circle","filled":false,"stroke":"#C8C8C8","strokeWidth":1.5,"opacity":1},"encoding":{"size":{"field":"r","type":"quantitative","scale":{"type":"pow","exponent":2,"domain":[0,1],"range":[0,95481]},"legend":null}}},
{"data":{"name":"outer"},"mark":{"type":"point","shape":"circle","filled":false,"stroke":"#000000","strokeWidth":1,"opacity":1},"encoding":{"size":{"field":"r","type":"quantitative","scale":{"type":"pow","exponent":2,"domain":[0,1],"range":[0,95481]},"legend":null}}},
{"data":{"name":"dir_u"},"mark":{"type":"point","shape":"circle","filled":true,"fill":"#FF0000","stroke":"#000000","strokeWidth":1,"size":72,"opacity":1}}
]
},
{
"width":309,"height":340,
"view":{"stroke":null},
"title":{"text":"Original directions","orient":"bottom","fontSize":18.5,"fontWeight":"normal","font":"Liberation Sans","color":"#000000","offset":-1},
"encoding":{
"x":{"field":"u","type":"quantitative","scale":{"domain":[-1,1],"nice":false,"zero":false},"axis":null},
"y":{"field":"v","type":"quantitative","scale":{"domain":[-1.126,1.074],"nice":false,"zero":false},"axis":null}
},
"layer":[
{"data":{"name":"spokes"},"mark":{"type":"rule","stroke":"#C8C8C8","strokeWidth":1.5},"encoding":{"x2":{"field":"u2"},"y2":{"field":"v2"}}},
{"data":{"name":"rings"},"mark":{"type":"point","shape":"circle","filled":false,"stroke":"#C8C8C8","strokeWidth":1.5,"opacity":1},"encoding":{"size":{"field":"r","type":"quantitative","scale":{"type":"pow","exponent":2,"domain":[0,1],"range":[0,95481]},"legend":null}}},
{"data":{"name":"outer"},"mark":{"type":"point","shape":"circle","filled":false,"stroke":"#000000","strokeWidth":1,"opacity":1},"encoding":{"size":{"field":"r","type":"quantitative","scale":{"type":"pow","exponent":2,"domain":[0,1],"range":[0,95481]},"legend":null}}},
{"data":{"name":"dir_o"},"mark":{"type":"point","shape":"circle","filled":true,"fill":"#0000FF","stroke":"#000000","strokeWidth":1,"size":72,"opacity":1}}
]
}
],
"spacing":4,
"resolve":{"scale":{"x":"independent","y":"independent","size":"independent"}}
}
]
}
